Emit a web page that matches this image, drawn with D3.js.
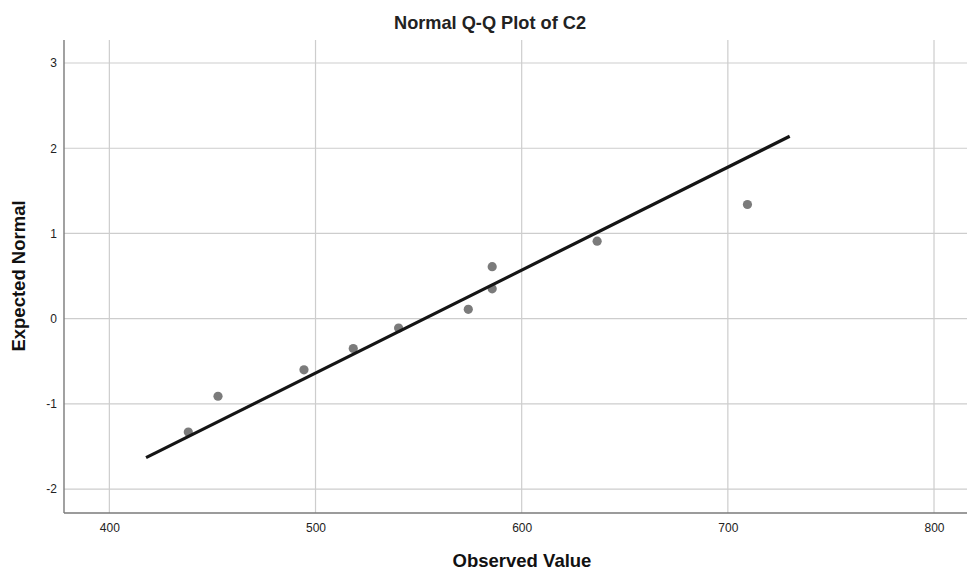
<!DOCTYPE html>
<head>
    <meta charset="utf-8">
    <style>
        body { margin: 0; background: #fff; }
        svg { display: block; font-family: "Liberation Sans", Arial, sans-serif; }
        .grid line { stroke: #cdcdcd; stroke-width: 1.2; }
        .axis path { display: none; }
        .axis line { display: none; }
        .axis text { font-size: 12px; fill: #222; }
    </style>
</head>
<body>
    <script src="https://d3js.org/d3.v7.min.js"></script>
    <script>
        const w = 967, h = 575;
        const m = { top: 40, right: 0, bottom: 62, left: 64 };

        // observed values and their expected normal scores
        const observed = [438.3, 452.7, 494.4, 518.3, 540.3, 574.1, 585.7, 585.7, 636.6, 709.5];
        const expected = [-1.33, -0.91, -0.60, -0.35, -0.11, 0.11, 0.35, 0.61, 0.91, 1.34];

        // reference line end points
        const lineX = [417.8, 730.0];
        const lineY = [-1.63, 2.14];

        const xTicks = [400, 500, 600, 700, 800];
        const yTicks = [-2, -1, 0, 1, 2, 3];

        const x = d3.scaleLinear().domain([378, 816]).range([m.left, w - m.right]);
        const y = d3.scaleLinear().domain([-2.28, 3.27]).range([h - m.bottom, m.top]);

        const svg = d3.select('body')
                      .append('svg')
                      .attr('width', w)
                      .attr('height', h);

        // grid
        const grid = svg.append('g').attr('class', 'grid');
        grid.selectAll('.gx')
            .data(xTicks)
            .enter()
            .append('line')
            .attr('x1', d => x(d)).attr('x2', d => x(d))
            .attr('y1', m.top).attr('y2', h - m.bottom);
        grid.selectAll('.gy')
            .data(yTicks)
            .enter()
            .append('line')
            .attr('x1', m.left).attr('x2', w - m.right)
            .attr('y1', d => y(d)).attr('y2', d => y(d));

        // axes (labels only, lines drawn below)
        svg.append('g')
           .attr('class', 'axis')
           .attr('transform', `translate(0,${h - m.bottom})`)
           .call(d3.axisBottom(x).tickValues(xTicks).tickSize(0).tickPadding(10)
                   .tickFormat(d => String(d)));
        svg.append('g')
           .attr('class', 'axis')
           .attr('transform', `translate(${m.left},0)`)
           .call(d3.axisLeft(y).tickValues(yTicks).tickSize(0).tickPadding(7)
                   .tickFormat(d => String(d)));

        svg.append('line')
           .attr('x1', m.left).attr('x2', m.left)
           .attr('y1', m.top).attr('y2', h - m.bottom)
           .attr('stroke', '#7a7a7a').attr('stroke-width', 1.4);
        svg.append('line')
           .attr('x1', m.left).attr('x2', w - m.right)
           .attr('y1', h - m.bottom).attr('y2', h - m.bottom)
           .attr('stroke', '#7a7a7a').attr('stroke-width', 1.4);

        // points
        svg.selectAll('circle')
           .data(observed)
           .enter()
           .append('circle')
           .attr('cx', d => x(d))
           .attr('cy', (d, i) => y(expected[i]))
           .attr('r', 4.6)
           .attr('fill', '#7b7b7b');

        // reference line
        svg.append('line')
           .attr('x1', x(lineX[0])).attr('y1', y(lineY[0]))
           .attr('x2', x(lineX[1])).attr('y2', y(lineY[1]))
           .attr('stroke', '#151515')
           .attr('stroke-width', 3.2);

        // titles
        svg.append('text')
           .attr('x', 490).attr('y', 29)
           .attr('text-anchor', 'middle')
           .attr('font-size', 18.2)
           .attr('font-weight', 'bold')
           .attr('fill', '#222')
           .text('Normal Q-Q Plot of C2');
        svg.append('text')
           .attr('x', 522).attr('y', 567)
           .attr('text-anchor', 'middle')
           .attr('font-size', 18.5)
           .attr('font-weight', 'bold')
           .attr('fill', '#111')
           .text('Observed Value');
        svg.append('text')
           .attr('transform', 'translate(25,276) rotate(-90)')
           .attr('text-anchor', 'middle')
           .attr('font-size', 18.5)
           .attr('font-weight', 'bold')
           .attr('fill', '#111')
           .text('Expected Normal');
    </script>
</body>
